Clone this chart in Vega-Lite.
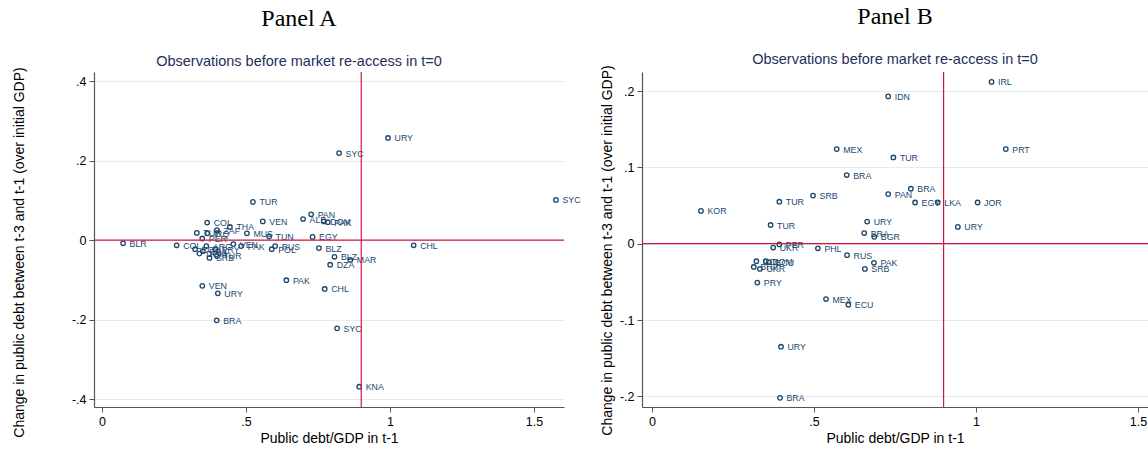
{
  "$schema": "https://vega.github.io/schema/vega-lite/v6.json",
  "padding": {"left": 11, "top": 5, "right": 0, "bottom": 0},
  "background": "white",
  "config": {
    "view": {"stroke": null},
    "concat": {"spacing": 78},
    "title": {"font": "Liberation Serif", "fontSize": 24, "fontWeight": "normal", "color": "#000000", "subtitleFont": "Liberation Sans", "subtitleFontSize": 14.5, "subtitleColor": "#1f2f5c", "subtitlePadding": 24, "offset": -2, "anchor": "middle", "frame": "group"},
    "axis": {"domainColor": "#555555", "tickColor": "#555555", "domainWidth": 1.2, "tickWidth": 1, "tickSize": 5, "labelColor": "#000000", "titleColor": "#000000", "labelFont": "Liberation Sans", "titleFont": "Liberation Sans", "labelFontSize": 12.5, "titleFontSize": 14, "titleFontWeight": "normal", "labelPadding": 3, "labelExpr": "replace(datum.value + '', '0.', '.')"},
    "axisX": {"grid": false, "titlePadding": 4},
    "axisY": {"grid": true, "gridColor": "#e4ecf1", "gridWidth": 1, "titleBaseline": "middle", "titleAngle": -90}
  },
  "bounds": "flush",
  "datasets": {
    "A": [
      {"x": 1.576, "y": 0.101, "c": "SYC"},
      {"x": 0.993, "y": 0.257, "c": "URY"},
      {"x": 0.823, "y": 0.219, "c": "SYC"},
      {"x": 0.524, "y": 0.096, "c": "TUR"},
      {"x": 0.726, "y": 0.065, "c": "PAN"},
      {"x": 0.698, "y": 0.053, "c": "ALB"},
      {"x": 0.770, "y": 0.047, "c": "DOM"},
      {"x": 0.784, "y": 0.045, "c": "PAK"},
      {"x": 0.558, "y": 0.047, "c": "VEN"},
      {"x": 0.731, "y": 0.008, "c": "EGY"},
      {"x": 0.580, "y": 0.009, "c": "TUN"},
      {"x": 0.503, "y": 0.017, "c": "MUS"},
      {"x": 0.444, "y": 0.033, "c": "THA"},
      {"x": 0.365, "y": 0.044, "c": "COL"},
      {"x": 0.329, "y": 0.018, "c": "TUR"},
      {"x": 0.365, "y": 0.017, "c": "IRQ"},
      {"x": 0.399, "y": 0.025, "c": "ZAF"},
      {"x": 0.348, "y": 0.004, "c": "PER"},
      {"x": 0.073, "y": -0.008, "c": "BLR"},
      {"x": 0.259, "y": -0.013, "c": "COL"},
      {"x": 0.362, "y": -0.015, "c": "ARG"},
      {"x": 0.456, "y": -0.010, "c": "VEN"},
      {"x": 0.483, "y": -0.015, "c": "PAK"},
      {"x": 0.323, "y": -0.023, "c": "ECU"},
      {"x": 0.338, "y": -0.034, "c": "DOM"},
      {"x": 0.350, "y": -0.028, "c": "BRA"},
      {"x": 0.393, "y": -0.023, "c": "PRY"},
      {"x": 0.373, "y": -0.045, "c": "SRB"},
      {"x": 0.399, "y": -0.040, "c": "TUR"},
      {"x": 0.601, "y": -0.015, "c": "RUS"},
      {"x": 0.589, "y": -0.023, "c": "POL"},
      {"x": 0.753, "y": -0.020, "c": "BLZ"},
      {"x": 0.807, "y": -0.042, "c": "BLZ"},
      {"x": 0.862, "y": -0.050, "c": "MAR"},
      {"x": 0.792, "y": -0.062, "c": "DZA"},
      {"x": 0.640, "y": -0.101, "c": "PAK"},
      {"x": 0.773, "y": -0.123, "c": "CHL"},
      {"x": 1.082, "y": -0.013, "c": "CHL"},
      {"x": 0.348, "y": -0.115, "c": "VEN"},
      {"x": 0.402, "y": -0.134, "c": "URY"},
      {"x": 0.398, "y": -0.202, "c": "BRA"},
      {"x": 0.816, "y": -0.222, "c": "SYC"},
      {"x": 0.893, "y": -0.369, "c": "KNA"}
    ],
    "B": [
      {"x": 1.048, "y": 0.212, "c": "IRL"},
      {"x": 0.729, "y": 0.193, "c": "IDN"},
      {"x": 0.570, "y": 0.124, "c": "MEX"},
      {"x": 1.092, "y": 0.124, "c": "PRT"},
      {"x": 0.745, "y": 0.113, "c": "TUR"},
      {"x": 0.601, "y": 0.090, "c": "BRA"},
      {"x": 0.799, "y": 0.072, "c": "BRA"},
      {"x": 0.729, "y": 0.065, "c": "PAN"},
      {"x": 0.497, "y": 0.063, "c": "SRB"},
      {"x": 0.812, "y": 0.054, "c": "EGY"},
      {"x": 0.882, "y": 0.054, "c": "LKA"},
      {"x": 1.005, "y": 0.054, "c": "JOR"},
      {"x": 0.944, "y": 0.022, "c": "URY"},
      {"x": 0.664, "y": 0.029, "c": "URY"},
      {"x": 0.655, "y": 0.014, "c": "BRA"},
      {"x": 0.686, "y": 0.009, "c": "BGR"},
      {"x": 0.151, "y": 0.043, "c": "KOR"},
      {"x": 0.393, "y": 0.055, "c": "TUR"},
      {"x": 0.366, "y": 0.0245, "c": "TUR"},
      {"x": 0.393, "y": -0.001, "c": "PER"},
      {"x": 0.374, "y": -0.005, "c": "UKR"},
      {"x": 0.512, "y": -0.006, "c": "PHL"},
      {"x": 0.602, "y": -0.015, "c": "RUS"},
      {"x": 0.685, "y": -0.025, "c": "PAK"},
      {"x": 0.657, "y": -0.033, "c": "SRB"},
      {"x": 0.322, "y": -0.023, "c": "COL"},
      {"x": 0.351, "y": -0.023, "c": "DOM"},
      {"x": 0.361, "y": -0.024, "c": "ECU"},
      {"x": 0.314, "y": -0.0305, "c": "BRA"},
      {"x": 0.333, "y": -0.033, "c": "UKR"},
      {"x": 0.325, "y": -0.051, "c": "PRY"},
      {"x": 0.537, "y": -0.0725, "c": "MEX"},
      {"x": 0.606, "y": -0.080, "c": "ECU"},
      {"x": 0.398, "y": -0.135, "c": "URY"},
      {"x": 0.395, "y": -0.202, "c": "BRA"}
    ]
  },
  "hconcat": [
    {
      "title": {"text": "Panel A", "subtitle": "Observations before market re-access in t=0", "dx": -30},
      "width": 470,
      "height": 335,
      "layer": [
        {
          "data": {"name": "A"},
          "mark": {"type": "point", "shape": "circle", "filled": false, "size": 20, "strokeWidth": 1.3, "color": "#1a476f", "opacity": 1},
          "encoding": {
            "x": {"field": "x", "type": "quantitative", "scale": {"domain": [-0.028, 1.604], "nice": false, "zero": false}, "axis": {"values": [0, 0.5, 1, 1.5], "title": "Public debt/GDP in t-1"}},
            "y": {"field": "y", "type": "quantitative", "scale": {"domain": [-0.42, 0.423], "nice": false, "zero": false}, "axis": {"values": [-0.4, -0.2, 0, 0.2, 0.4], "title": "Change in public debt between t-3 and t-1 (over initial GDP)", "titleX": -75, "titleY": 180}}
          }
        },
        {
          "data": {"name": "A"},
          "mark": {"type": "text", "align": "left", "baseline": "middle", "dx": 6.5, "dy": 0.5, "fontSize": 8.8, "font": "Liberation Sans", "color": "#1a476f"},
          "encoding": {
            "x": {"field": "x", "type": "quantitative"},
            "y": {"field": "y", "type": "quantitative"},
            "text": {"field": "c"}
          }
        },
        {
          "data": {"values": [{"v": 0.9}]},
          "mark": {"type": "rule", "color": "#d6153f", "strokeWidth": 1.2},
          "encoding": {"x": {"field": "v", "type": "quantitative"}}
        },
        {
          "data": {"values": [{"v": 0}]},
          "mark": {"type": "rule", "color": "#d6153f", "strokeWidth": 1.2},
          "encoding": {"y": {"field": "v", "type": "quantitative"}}
        }
      ]
    },
    {
      "title": {"text": "Panel B", "subtitle": "Observations before market re-access in t=0"},
      "width": 506,
      "height": 335,
      "layer": [
        {
          "data": {"name": "B"},
          "mark": {"type": "point", "shape": "circle", "filled": false, "size": 20, "strokeWidth": 1.3, "color": "#1a476f", "opacity": 1},
          "encoding": {
            "x": {"field": "x", "type": "quantitative", "scale": {"domain": [-0.031, 1.531], "nice": false, "zero": false}, "axis": {"values": [0, 0.5, 1, 1.5], "title": "Public debt/GDP in t-1"}},
            "y": {"field": "y", "type": "quantitative", "scale": {"domain": [-0.214, 0.225], "nice": false, "zero": false}, "axis": {"values": [-0.2, -0.1, 0, 0.1, 0.2], "title": "Change in public debt between t-3 and t-1 (over initial GDP)", "titleX": -35, "titleY": 178}}
          }
        },
        {
          "data": {"name": "B"},
          "mark": {"type": "text", "align": "left", "baseline": "middle", "dx": 6.5, "dy": 0.5, "fontSize": 8.8, "font": "Liberation Sans", "color": "#1a476f"},
          "encoding": {
            "x": {"field": "x", "type": "quantitative"},
            "y": {"field": "y", "type": "quantitative"},
            "text": {"field": "c"}
          }
        },
        {
          "data": {"values": [{"v": 0.9}]},
          "mark": {"type": "rule", "color": "#d6153f", "strokeWidth": 1.2},
          "encoding": {"x": {"field": "v", "type": "quantitative"}}
        },
        {
          "data": {"values": [{"v": 0}]},
          "mark": {"type": "rule", "color": "#d6153f", "strokeWidth": 1.2},
          "encoding": {"y": {"field": "v", "type": "quantitative"}}
        }
      ]
    }
  ]
}
